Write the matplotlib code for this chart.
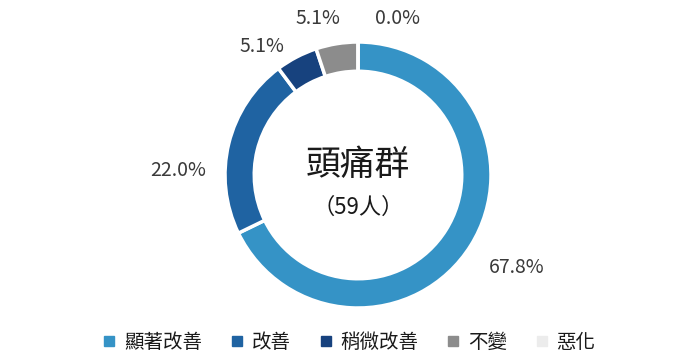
import matplotlib
matplotlib.use("Agg")
import numpy as np
import matplotlib.pyplot as plt
from matplotlib.lines import Line2D

plt.rcParams['font.family'] = ['Noto Sans CJK TC', 'DejaVu Sans']

# data
categories = ["顯著改善", "改善", "稍微改善", "不變", "惡化"]
values = [67.8, 22.0, 5.1, 5.1, 0.0]
colors = ["#3593c6", "#1f63a2", "#17427e", "#8c8c8c", "#ececec"]
title = "頭痛群"
subtitle = "（59人）"

fig = plt.figure(figsize=(6.91, 3.56), dpi=100)
cx, cy, r = 358, 175, 133
ax = fig.add_axes([(cx - r) / 691, (356 - cy - r) / 356, 2 * r / 691, 2 * r / 356])

labels = ["%.1f%%" % v for v in values]
wedges, texts = ax.pie(values, colors=colors, startangle=90, counterclock=False,
                       labels=labels, labeldistance=1.2,
                       wedgeprops=dict(width=0.22, edgecolor="white", linewidth=2.5),
                       textprops=dict(color="#3a3a3a", fontsize=14))
# nudge labels like the original
nudges = [(-0.03, -0.06), (0.02, -0.25), (0.0, -0.1), (0.06, -0.01), (0.13, -0.02)]
for t, (dx, dy) in zip(texts, nudges):
    x, y = t.get_position()
    t.set_position((x + dx, y + dy))

ax.set_xlim(-1, 1)
ax.set_ylim(-1, 1)
ax.set_aspect("equal")

ax.text(0, 0.07, title, ha="center", va="center", fontsize=25, color="#1a1a1a")
ax.text(0, -0.24, subtitle, ha="center", va="center", fontsize=16, color="#1a1a1a")

handles = [Line2D([], [], marker="s", linestyle="none", markersize=7,
                  markerfacecolor=c, markeredgecolor=c) for c in colors]
fig.legend(handles, categories, loc="lower center", ncol=5, frameon=False,
           bbox_to_anchor=(0.505, -0.04), fontsize=14, handlelength=0.7,
           handletextpad=0.4, columnspacing=1.45, labelcolor="#1a1a1a")

fig.savefig("out.png", dpi=100)
